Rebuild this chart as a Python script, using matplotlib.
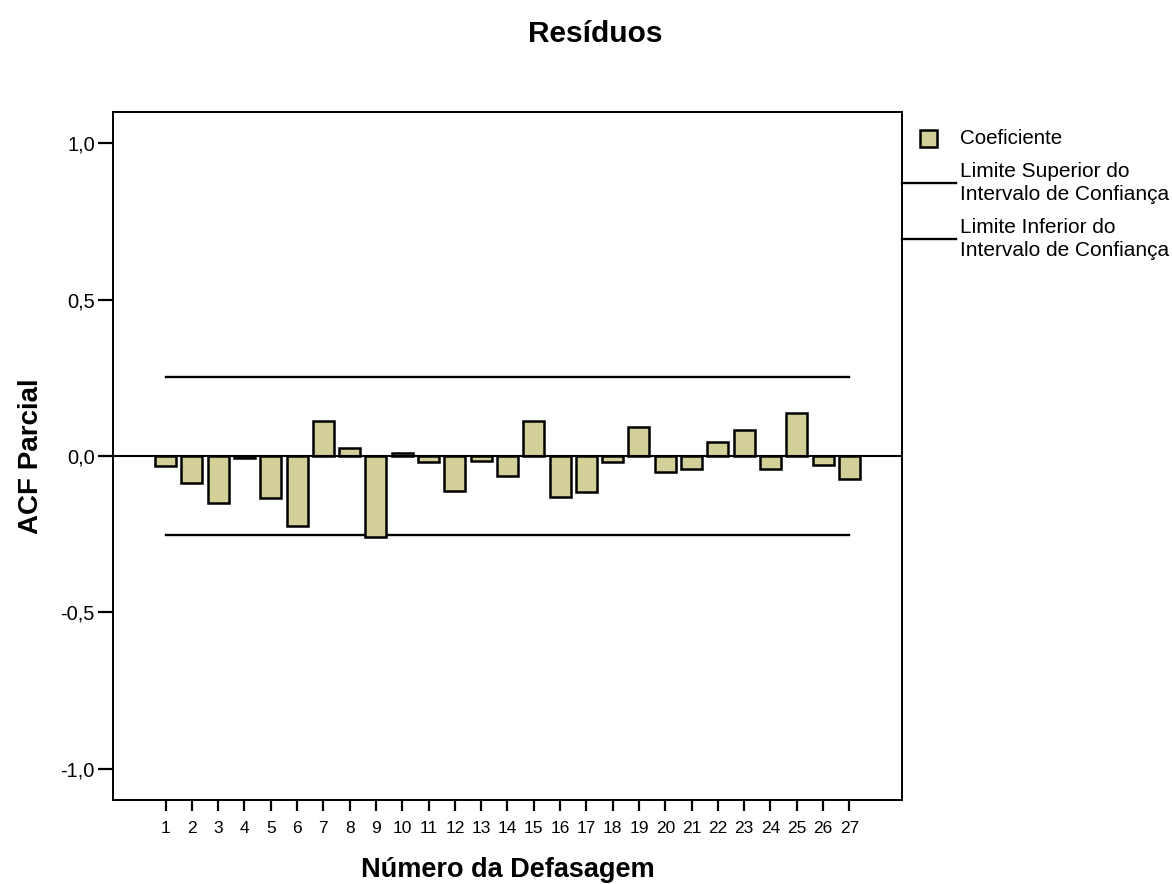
import matplotlib
matplotlib.use("Agg")
import matplotlib.pyplot as plt
from matplotlib.lines import Line2D
from matplotlib.patches import Rectangle

plt.rcParams["font.family"] = ["Liberation Sans", "DejaVu Sans"]

# ACF parcial dos resíduos, defasagens 1..27
defasagens = list(range(1, 28))
coeficientes = [-0.033, -0.087, -0.151, -0.006, -0.134, -0.224, 0.112, 0.026, -0.258,
                0.009, -0.019, -0.113, -0.017, -0.063, 0.112, -0.132, -0.115, -0.020,
                0.092, -0.050, -0.040, 0.045, 0.083, -0.040, 0.137, -0.029, -0.075]
limite_superior = 0.254
limite_inferior = -0.254
yticks = [-1.0, -0.5, 0.0, 0.5, 1.0]
ytick_labels = ["-1,0", "-0,5", "0,0", "0,5", "1,0"]

cor_barra = "#D3CF98"

fig = plt.figure(figsize=(11.72, 8.84), dpi=100)
ax = fig.add_axes([0.0964, 0.095, 0.6732, 0.7783])

ax.bar(defasagens, coeficientes, width=0.8, color=cor_barra, edgecolor="black",
       linewidth=1.8, zorder=3)
ax.axhline(0, color="black", linewidth=1.5, zorder=4)
ax.plot([defasagens[0], defasagens[-1]], [limite_superior, limite_superior],
        color="black", linewidth=1.7)
ax.plot([defasagens[0], defasagens[-1]], [limite_inferior, limite_inferior],
        color="black", linewidth=1.7)

ax.set_xlim(-1, 29)
ax.set_ylim(-1.1, 1.1)
ax.set_xticks(defasagens)
ax.set_xticklabels([str(d) for d in defasagens],
                   family=["Liberation Sans Narrow", "Liberation Sans"], fontsize=12.5)
ax.set_yticks(yticks)
ax.set_yticklabels(ytick_labels, fontsize=14.5)
ax.tick_params(axis="x", length=8, width=1.6, pad=7)
ax.tick_params(axis="y", length=11, width=1.6, pad=2)
for s in ax.spines.values():
    s.set_linewidth(1.4)

ax.set_xlabel("Número da Defasagem", fontsize=19.5, fontweight="bold", labelpad=15)
ax.set_ylabel("ACF Parcial", fontsize=20, fontweight="bold", labelpad=12)
fig.text(0.508, 0.961, "Resíduos", fontsize=21.5, fontweight="bold",
         ha="center", va="center")

# legenda desenhada à direita do gráfico
W, H = 1172, 884
def fx(px):
    return px / W
def fy(py):
    return 1 - py / H

fig.add_artist(Rectangle((fx(920), fy(147)), 17 / W, 17 / H, transform=fig.transFigure,
                         facecolor=cor_barra, edgecolor="black", linewidth=1.8))
fig.text(fx(960), fy(139), "Coeficiente", fontsize=14.8, va="center", ha="left")
for y_linha, texto in [(183, "Limite Superior do\nIntervalo de Confiança"),
                       (239, "Limite Inferior do\nIntervalo de Confiança")]:
    fig.add_artist(Line2D([fx(902), fx(956)], [fy(y_linha), fy(y_linha)],
                          transform=fig.transFigure, color="black", linewidth=1.7))
    fig.text(fx(960), fy(y_linha), texto, fontsize=15, va="center", ha="left",
             linespacing=1.3)

fig.savefig("out.png", dpi=100)
